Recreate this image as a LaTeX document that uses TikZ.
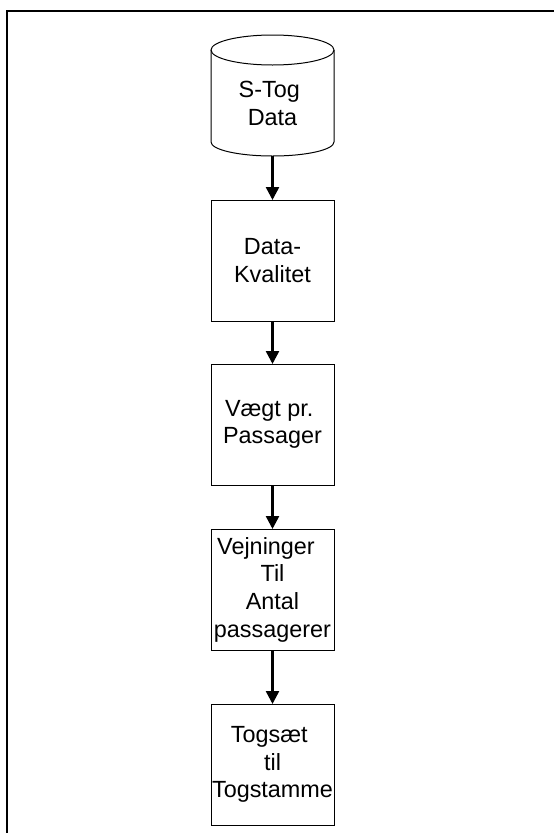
\documentclass[tikz,border=0pt]{standalone}
\usepackage{fontspec}
\setmainfont{Liberation Sans}
\usetikzlibrary{arrows.meta}
\begin{document}
\begin{tikzpicture}[x=1pt,y=-1pt,
  every node/.style={inner sep=0pt, outer sep=0pt},
  txt/.style={font=\fontsize{23.4}{27.7}\selectfont, align=center},
  stepbox/.style={draw, line width=1pt, minimum width=123pt, minimum height=121pt, txt},
  flow/.style={line width=2.5pt, -{Triangle[length=13pt,width=13pt]}}]
\useasboundingbox (0,0) rectangle (554,833);
% outer frame (only top and left edges visible)
\draw[line width=2.4pt] (560,11) -- (7,11) -- (7,840);
% cylinder: S-Tog Data
\node[minimum width=123pt, minimum height=121pt] (data) at (272.5,95.5) {};
\draw[line width=1pt] (272.5,50) ellipse [x radius=61.5pt, y radius=15pt];
\draw[line width=1pt] (211,50) -- (211,142) arc[start angle=180, end angle=360, x radius=61.5pt, y radius=14pt] -- (334,50);
\node[txt] (datalbl) at (272.5,103.5) {S-Tog\hspace*{6.5pt}\\Data};
% process boxes
\node[stepbox] (dq) at (272.5,260.5) {Data-\\Kvalitet};
\node[stepbox] (vp) at (272.5,424.5) {Vægt pr.\hspace*{6.5pt}\\Passager};
\node[stepbox] (vt) at (272.5,589.5) {Vejninger\hspace*{13pt}\\Til\\Antal\hspace*{6.5pt}\\passagerer};
\node[stepbox] (tt) at (272.5,764.5) {Togsæt\hspace*{6.5pt}\\til\hspace*{6.5pt}\\Togstamme};
% connectors
\draw[flow] (data.south) -- (dq.north);
\draw[flow] (dq.south) -- (vp.north);
\draw[flow] (vp.south) -- (vt.north);
\draw[flow] (vt.south) -- (tt.north);
\end{tikzpicture}
\end{document}
